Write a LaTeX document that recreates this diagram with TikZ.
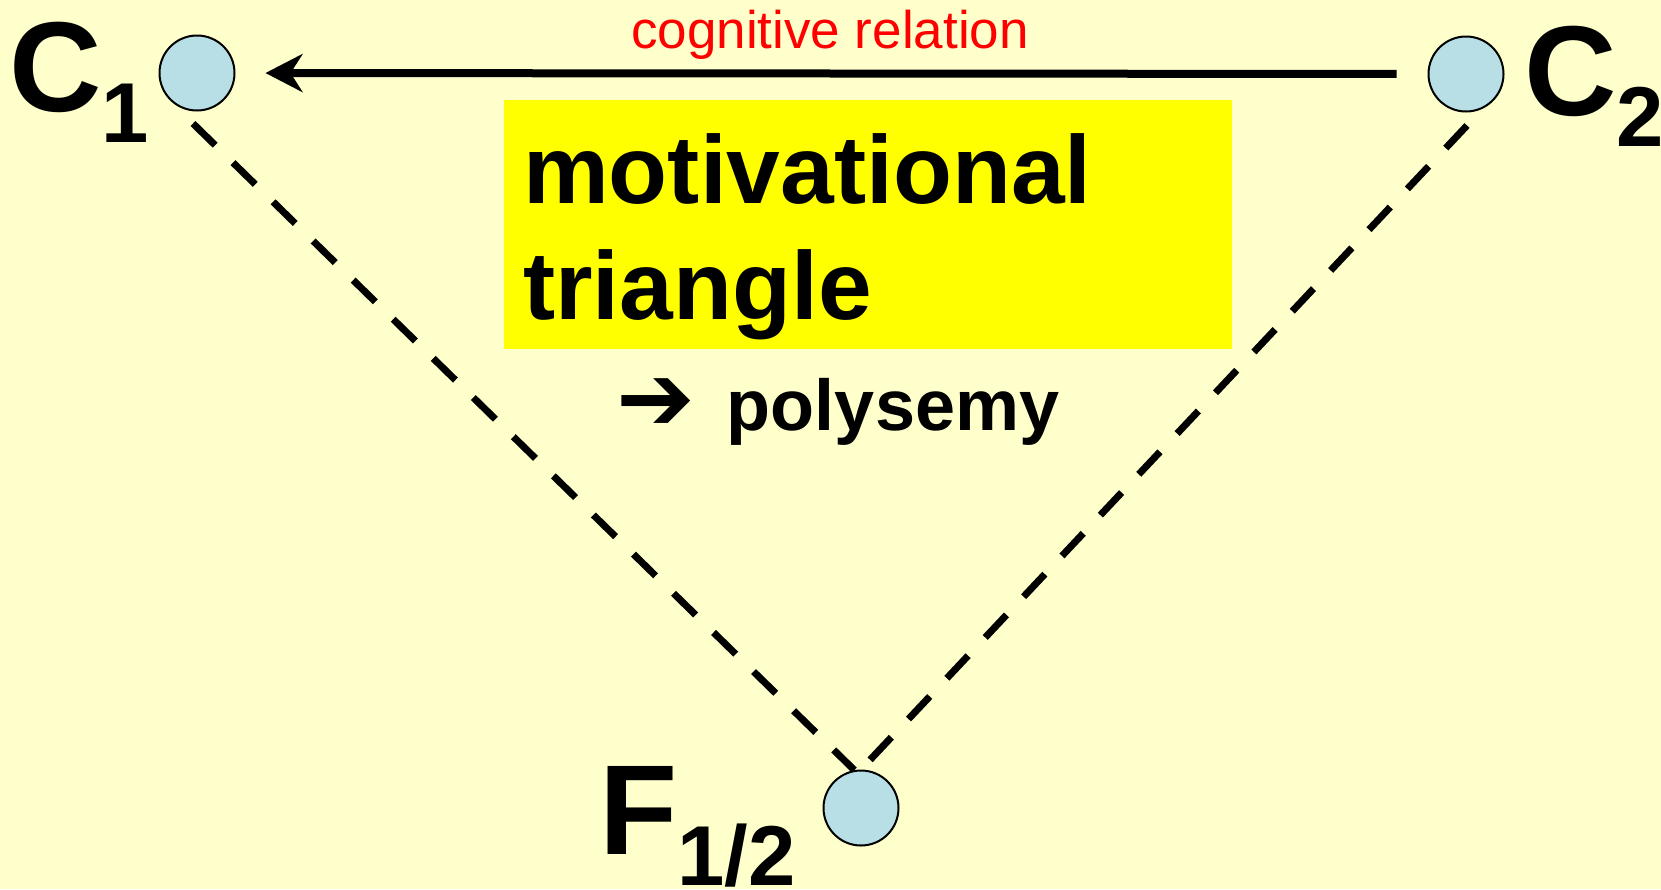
\documentclass[tikz,border=0pt]{standalone}
\usepackage{fontspec}
\setmainfont{Liberation Sans}
\newfontfamily\arrowfont{DejaVu Sans}
\usepackage{tikz}
\usetikzlibrary{arrows.meta, calc}

\definecolor{paper}{HTML}{FFFFCC}
\definecolor{concept}{HTML}{B8DFE5}
\definecolor{hilite}{HTML}{FFFF00}

\tikzset{
  dot/.style={circle, draw=black, line width=2pt, fill=concept, minimum size=75pt, inner sep=0pt},
  biglabel/.style={font=\bfseries\fontsize{128}{150}\selectfont, inner sep=0pt, anchor=base west},
  boxtext/.style={font=\bfseries\fontsize{96.5}{116}\selectfont, inner sep=0pt, anchor=base west},
  link/.style={line width=7pt, dash pattern=on 31pt off 25pt},
  relation/.style={line width=8pt, -{Stealth[length=37pt, width=38pt, inset=12pt]}, shorten >=30pt, shorten <=31pt},
}
\newcommand{\idx}[1]{\raisebox{-31pt}{\fontsize{85}{100}\selectfont #1}}

\begin{document}
\begin{tikzpicture}[x=1pt, y=-1pt]
    \useasboundingbox (0,0) rectangle (1661,889);
    \fill[paper] (0,0) rectangle (1661,889);
    \fill[hilite] (504,100) rectangle (1232,349);
    % the three concepts
    \node[dot] (c1) at (197,73) {};
    \node[dot] (c2) at (1466,74) {};
    \node[dot] (f) at (861,808) {};
    \node[biglabel] (c1lbl) at (9,111) {C\idx{1}};
    \node[biglabel] (c2lbl) at (1524,115) {C\idx{2}};
    \node[biglabel] (flbl) at (599,854) {F\idx{1/2}};
    % relations
    \draw[relation] (c2.west) -- (c1.east);
    \node[red, font=\fontsize{53}{60}\selectfont, inner sep=0pt, anchor=base] (rel) at (830,48) {cognitive relation};
    \draw[link] ($(c1.south)+(-4,12)$) -- (f.100);
    \draw[link] ($(c2.south)+(1,13)$) -- (f.north);
    % box text
    \node[boxtext] (mot) at (523,203) {motivational};
    \node[boxtext] (tri) at (523,319) {triangle};
    \node[font=\bfseries\fontsize{72}{90}\selectfont, inner sep=0pt, anchor=base west] (poly) at (616,430) {{\arrowfont\fontsize{94}{110}\selectfont ➔}\hspace{32pt}polysemy};
\end{tikzpicture}
\end{document}
